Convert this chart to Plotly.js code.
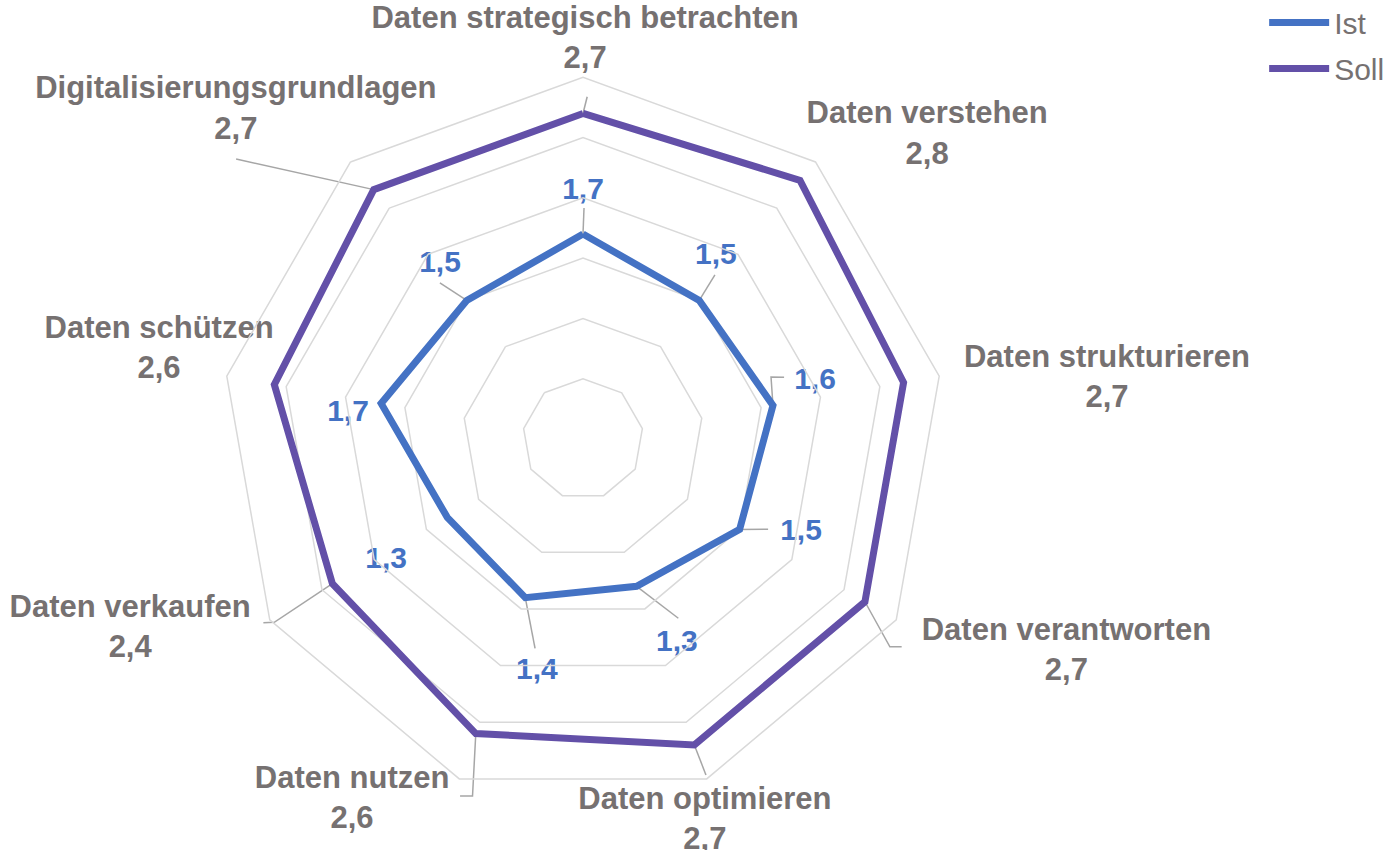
<!DOCTYPE html>
<html><head><meta charset="utf-8">
<script src="https://cdn.plot.ly/plotly-3.0.1.min.js"></script>
<style>html,body{margin:0;padding:0;background:#fff}#chart{width:1384px;height:850px}</style>
</head><body><div id="chart"></div>
<script>
// ---- data ----
const categories = ['Daten strategisch betrachten','Daten verstehen','Daten strukturieren','Daten verantworten','Daten optimieren','Daten nutzen','Daten verkaufen','Daten schützen','Digitalisierungsgrundlagen'];
const istValues  = [1.7, 1.5, 1.6, 1.5, 1.3, 1.4, 1.3, 1.7, 1.5];
const sollValues = [2.7, 2.8, 2.7, 2.7, 2.7, 2.6, 2.4, 2.6, 2.7];
const seriesNames = ['Ist', 'Soll'];

// ---- label layout (theta in degrees clockwise from top, r in radial-axis units) ----
const STEP = 360 / categories.length;
const catLabelPos = [[0.3,3.305],[48.6,3.805],[83.5,4.374],[113.8,4.382],[162.3,3.326],[212.6,3.555],[247.2,4.074],[281.8,3.592],[313.4,3.963]];
const istLabelPos = [[0,2.049],[36.0,1.876],[76.0,1.983],[113.3,1.969],[155.3,1.863],[191.2,1.970],[238.4,1.917],[276.3,1.961],[320.6,1.868]];
const istLeaders  = {0:[[0.25,1.916]],1:[[38.8,1.746]],2:[[72.9,1.745],[71.75,1.642]],3:[[116.0,1.708]],4:[[152.0,1.684]],5:[[192.9,1.781]],8:[[317.5,1.757]]};
const sollLeaders = {0:[[0.7,2.839]],3:[[123.1,3.155],[124.1,3.074]],4:[[159.9,2.967]],5:[[199.0,3.132],[197.2,3.099]],6:[[240.1,3.058],[239.3,2.978]],8:[[308.9,3.697]]};

const FONT = '"Liberation Sans", Arial, sans-serif';
const GRAY = '#767171';
const BLUE = '#4472C4';
const PURPLE = '#6350A8';
const LEADER = '#A6A6A6';
const fmt = v => v.toFixed(1).replace('.', ',');
const close = a => a.concat([a[0]]);

// figure geometry
const W = 1384, H = 850;
const dom = {x:[0.15990, 0.68259], y:[0.05800, 0.90906]};
const RMAX = 3;
const Rpx = 0.5 * (dom.y[1] - dom.y[0]) * H;          // polar radius in px
const unit = Rpx / RMAX;                               // px per radial unit
const cxPx = 0.5 * (dom.x[0] + dom.x[1]) * W;
const cyPx = 0.5 * (dom.y[0] + dom.y[1]) * H;           // from bottom
// overlay cartesian axes share the polar centre and scale
const xRange = [-cxPx / unit, (W - cxPx) / unit];
const yRange = [-cyPx / unit, (H - cyPx) / unit];
const toXY = (th, r) => [r * Math.sin(th * Math.PI / 180), r * Math.cos(th * Math.PI / 180)];

const traces = [];
function addLeaders(map, values) {
  Object.keys(map).forEach(k => {
    const i = +k;
    const pts = map[k].concat([[i * STEP, values[i]]]).map(p => toXY(p[0], p[1]));
    traces.push({type:'scatter', xaxis:'x', yaxis:'y', mode:'lines',
      x: pts.map(p => p[0]), y: pts.map(p => p[1]),
      line:{color:LEADER, width:1.5}, showlegend:false, hoverinfo:'skip'});
  });
}
addLeaders(istLeaders, istValues);
addLeaders(sollLeaders, sollValues);

traces.push({type:'scatterpolar', subplot:'polar', name:seriesNames[0], legendgroup:'g1', mode:'lines',
  theta: close(categories), r: close(istValues), line:{color:BLUE, width:7}, hoverinfo:'skip'});
traces.push({type:'scatterpolar', subplot:'polar', name:seriesNames[1], legendgroup:'g2', mode:'lines',
  theta: close(categories), r: close(sollValues), line:{color:PURPLE, width:7}, hoverinfo:'skip'});

const catXY = catLabelPos.map(p => toXY(p[0], p[1]));
traces.push({type:'scatter', xaxis:'x', yaxis:'y', mode:'text', showlegend:false, hoverinfo:'skip', cliponaxis:false,
  x: catXY.map(p => p[0]), y: catXY.map(p => p[1]),
  text: categories.map((c, i) => '<b>' + c + '</b><br><b>' + fmt(sollValues[i]) + '</b>'),
  textposition:'middle center', textfont:{family:FONT, size:31, color:GRAY}});
const istXY = istLabelPos.map(p => toXY(p[0], p[1]));
traces.push({type:'scatter', xaxis:'x', yaxis:'y', mode:'text', showlegend:false, hoverinfo:'skip', cliponaxis:false,
  x: istXY.map(p => p[0]), y: istXY.map(p => p[1]),
  text: istValues.map(v => '<b>' + fmt(v) + '</b>'),
  textposition:'middle center', textfont:{family:FONT, size:30, color:BLUE}});

const layout = {
  width:W, height:H,
  margin:{l:0, r:0, t:0, b:0, autoexpand:false},
  paper_bgcolor:'#ffffff', plot_bgcolor:'rgba(0,0,0,0)',
  font:{family:FONT, color:GRAY},
  showlegend:true,
  legend:{x:0.9134, xanchor:'left', y:1.004, yanchor:'top', bgcolor:'rgba(0,0,0,0)',
    font:{family:FONT, size:30, color:GRAY}, itemwidth:60, tracegroupgap:4, traceorder:'grouped'},
  xaxis:{domain:[0,1], range:xRange, visible:false, fixedrange:true},
  yaxis:{domain:[0,1], range:yRange, visible:false, fixedrange:true},
  polar:{
    domain:dom, gridshape:'linear', bgcolor:'rgba(0,0,0,0)',
    radialaxis:{range:[0,RMAX], tick0:0, dtick:0.5, showticklabels:false, ticks:'', showline:false,
      gridcolor:'#D9D9D9', gridwidth:1.5, angle:90},
    angularaxis:{type:'category', direction:'clockwise', rotation:90, showgrid:false,
      showticklabels:false, ticks:'', showline:true, linecolor:'#D9D9D9', linewidth:1.5}
  }
};
Plotly.newPlot('chart', traces, layout, {staticPlot:true, displayModeBar:false});
</script>
</body></html>
